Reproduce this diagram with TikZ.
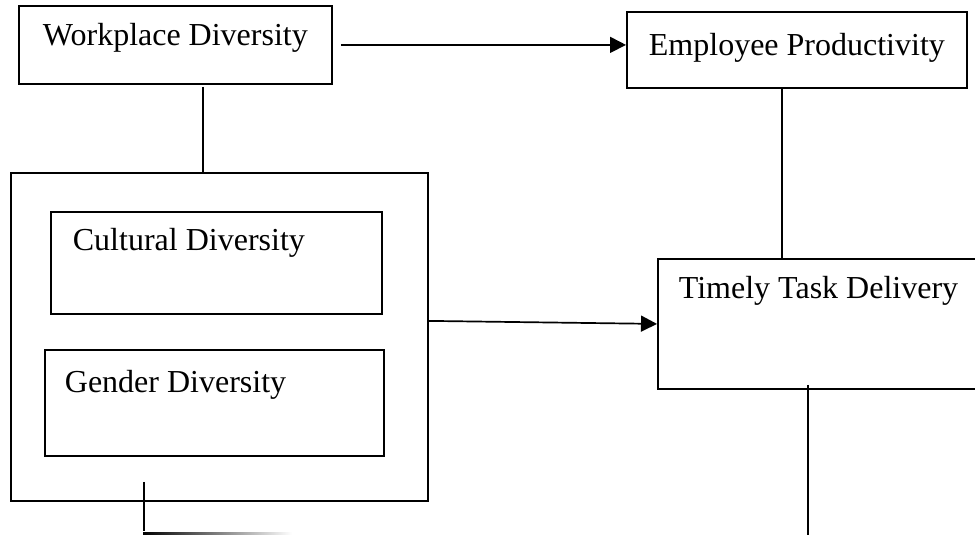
\documentclass[tikz,border=0pt]{standalone}
\usepackage{fontspec}
\setmainfont{Liberation Serif}
\usepackage{tikz}
\usetikzlibrary{arrows.meta, positioning, calc}

\begin{document}
\begin{tikzpicture}[
  x=1pt, y=-1pt,
  vbox/.style={draw, line width=1.8pt, inner sep=0pt, anchor=north west, font=\fontsize{32}{38}\selectfont},
  lbox/.style={vbox, align=flush left},
  conn/.style={line width=1.7pt},
  arr/.style={line width=1.7pt, -{Triangle[length=16pt, width=16pt]}}
]
  \useasboundingbox (0,0) rectangle (975,535);

  % top row
  \node[vbox, minimum width=313pt, text height=40pt, text depth=38pt] (wd) at (18,5) {Workplace Diversity};
  \node[vbox, minimum width=340pt, text height=44pt, text depth=32pt] (ep) at (626,11) {Employee Productivity};

  % grouped dimensions
  \node[vbox, minimum width=417pt, minimum height=328pt] (grp) at (10,172) {};
  \node[lbox, inner xsep=22pt, text width=287pt, text height=39pt, text depth=63pt] (cd) at (50,211) {Cultural Diversity};
  \node[lbox, inner xsep=20pt, text width=299pt, text height=43pt, text depth=63pt] (gd) at (44,349) {Gender Diversity};

  % outcome
  \node[lbox, inner xsep=21pt, text width=291pt, text height=40pt, text depth=90pt] (ttd) at (657,258) {Timely Task Delivery};

  % connectors
  \draw[arr] ([xshift=8pt]wd.east) -- (ep.west |- wd.east);
  \coordinate (wdtap) at ([xshift=27.5pt, yshift=-2pt]wd.south);
  \draw[conn] (wdtap) -- (wdtap |- grp.north);
  \coordinate (eptap) at ([xshift=-15pt]ep.south);
  \draw[conn] (eptap) -- (eptap |- ttd.north);
  \draw[arr] ([yshift=16pt]grp.east) -- (ttd.west);

  % loose ends at the bottom
  \coordinate (ttdtap) at ([xshift=151pt, yshift=5pt]ttd.south west);
  \coordinate (ttdend) at (808,537);
  \draw[line width=2.4pt] (ttdtap) -- (ttdend);
  \coordinate (grptap) at ([xshift=134pt, yshift=20pt]grp.south west);
  \coordinate (grpend) at (144,531);
  \draw[conn] (grptap) -- (grpend);
  \shade[left color=black, right color=white] (143,532.5) rectangle (292,535.5);
\end{tikzpicture}
\end{document}
